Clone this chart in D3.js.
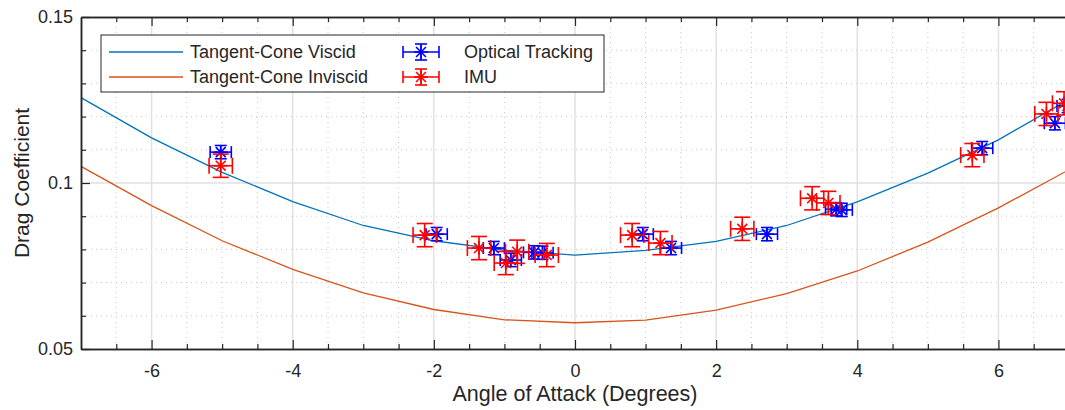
<!DOCTYPE html>
<html>
<head>
<meta charset="UTF-8">
<title>Drag coefficient vs angle of attack</title>
<script src="https://d3js.org/d3.v7.min.js"></script>
<style>
  body { margin: 0; background: #fff; }
  text { font-family: "Liberation Sans", Arial, sans-serif; fill: #262626; }
</style>
</head>
<body>
<script>
// model curves
var alphaGrid = [-7, -6, -5, -4, -3, -2, -1, 0, 1, 2, 3, 4, 5, 6, 7];
var viscid    = [0.1257, 0.1136, 0.1032, 0.0944, 0.0872, 0.0826, 0.0798, 0.0783, 0.0797, 0.0824, 0.0872, 0.0943, 0.1030, 0.1130, 0.1252];
var inviscid  = [0.1050, 0.0932, 0.0826, 0.0740, 0.0669, 0.0619, 0.0588, 0.0579, 0.0587, 0.0617, 0.0667, 0.0735, 0.0822, 0.0925, 0.1040];

// measurements
var opticalAlpha = [-5.02, -1.96, -1.15, -0.91, -0.58, -0.46, 0.96, 1.36, 2.72, 3.70, 3.78, 5.77, 6.80, 6.98];
var opticalCd    = [0.1093, 0.0846, 0.0804, 0.0768, 0.0791, 0.0790, 0.0846, 0.0804, 0.0846, 0.0921, 0.0919, 0.1105, 0.1180, 0.1232];
var imuAlpha = [-5.02, -2.13, -1.36, -0.98, -0.82, -0.40, 0.81, 1.21, 2.37, 3.36, 3.59, 5.63, 6.68, 6.93];
var imuCd    = [0.1052, 0.0843, 0.0804, 0.0759, 0.0793, 0.0783, 0.0843, 0.0819, 0.0862, 0.0954, 0.0940, 0.1084, 0.1208, 0.1240];

var xTicks = [-6, -4, -2, 0, 2, 4, 6];
var yTicks = [0.05, 0.1, 0.15];

var margin = {top: 17, right: -4, bottom: 61, left: 81},
    W = 1065, H = 410,
    width = W - margin.left - margin.right,
    height = H - margin.top - margin.bottom;

var x = d3.scaleLinear().domain([-7, 7]).range([0, width]);
var y = d3.scaleLinear().domain([0.05, 0.15]).range([height, 0]);

var svg = d3.select("body").append("svg")
    .attr("width", W).attr("height", H);
var g = svg.append("g")
    .attr("transform", "translate(" + margin.left + "," + margin.top + ")");

// minor grid
var xMinor = d3.range(-6.5, 7, 0.5).filter(function (v) { return Math.abs(v % 2) > 1e-6; });
var yMinor = d3.range(0.06, 0.15, 0.01).filter(function (v) { return Math.abs(v - 0.1) > 1e-6; });
g.selectAll(".xminor").data(xMinor).enter().append("line")
    .attr("x1", function (d) { return x(d); }).attr("x2", function (d) { return x(d); })
    .attr("y1", 0).attr("y2", height)
    .attr("stroke", "#c8c8c8").attr("stroke-width", 1).attr("stroke-dasharray", "1,4");
g.selectAll(".yminor").data(yMinor).enter().append("line")
    .attr("y1", function (d) { return y(d); }).attr("y2", function (d) { return y(d); })
    .attr("x1", 0).attr("x2", width)
    .attr("stroke", "#c8c8c8").attr("stroke-width", 1).attr("stroke-dasharray", "1,4");

// major grid
g.selectAll(".xmajor").data(xTicks).enter().append("line")
    .attr("x1", function (d) { return x(d); }).attr("x2", function (d) { return x(d); })
    .attr("y1", 0).attr("y2", height)
    .attr("stroke", "#e1e1e1").attr("stroke-width", 1.5);
g.selectAll(".ymajor").data([0.1]).enter().append("line")
    .attr("y1", function (d) { return y(d); }).attr("y2", function (d) { return y(d); })
    .attr("x1", 0).attr("x2", width)
    .attr("stroke", "#e1e1e1").attr("stroke-width", 1.5);

// curves
var line = d3.line()
    .x(function (d) { return x(d[0]); })
    .y(function (d) { return y(d[1]); });
g.append("path").datum(d3.zip(alphaGrid, inviscid))
    .attr("d", line).attr("fill", "none").attr("stroke", "#D95319").attr("stroke-width", 1.3);
g.append("path").datum(d3.zip(alphaGrid, viscid))
    .attr("d", line).attr("fill", "none").attr("stroke", "#0072BD").attr("stroke-width", 1.3);

// error bar marks
function errMark(sel, color, ex, ey, cap) {
    sel.each(function (d) {
        var s = d3.select(this);
        var cx = x(d[0]), cy = y(d[1]);
        var dx = x(d[0] + ex) - cx, dy = cy - y(d[1] + ey);
        drawErr(s, cx, cy, dx, dy, cap, color);
    });
}
function drawErr(s, cx, cy, dx, dy, cap, color) {
    var segs = [
        [cx - dx, cy, cx + dx, cy],
        [cx, cy - dy, cx, cy + dy],
        [cx - dx, cy - cap, cx - dx, cy + cap],
        [cx + dx, cy - cap, cx + dx, cy + cap],
        [cx - cap, cy - dy, cx + cap, cy - dy],
        [cx - cap, cy + dy, cx + cap, cy + dy]
    ];
    var r = 7, k = r * 0.7071;
    segs.push([cx - r, cy, cx + r, cy], [cx, cy - r, cx, cy + r],
              [cx - k, cy - k, cx + k, cy + k], [cx - k, cy + k, cx + k, cy - k]);
    s.selectAll("line").data(segs).enter().append("line")
        .attr("x1", function (d) { return d[0]; }).attr("y1", function (d) { return d[1]; })
        .attr("x2", function (d) { return d[2]; }).attr("y2", function (d) { return d[3]; })
        .attr("stroke", color).attr("stroke-width", 1.6);
}

g.selectAll(".opt").data(d3.zip(opticalAlpha, opticalCd)).enter().append("g")
    .attr("class", "opt").call(errMark, "#0000ff", 0.15, 0.002, 6);
g.selectAll(".imu").data(d3.zip(imuAlpha, imuCd)).enter().append("g")
    .attr("class", "imu").call(errMark, "#ff0000", 0.165, 0.0035, 8);

// axes
var fmtX = function (d) { return String(d); };
var fmtY = function (d) { return String(+d.toFixed(2)); };
g.append("g").attr("transform", "translate(0," + height + ")")
    .call(d3.axisBottom(x).tickValues(xTicks).tickSizeInner(-9).tickSizeOuter(0).tickPadding(15).tickFormat(fmtX));
g.append("g")
    .call(d3.axisTop(x).tickValues(xTicks).tickSizeInner(-9).tickSizeOuter(0).tickFormat(""));
g.append("g")
    .call(d3.axisLeft(y).tickValues(yTicks).tickSizeInner(-9).tickSizeOuter(0).tickPadding(8).tickFormat(fmtY));
// minor ticks
g.append("g").attr("transform", "translate(0," + height + ")")
    .call(d3.axisBottom(x).tickValues(xMinor).tickSizeInner(-5).tickSizeOuter(0).tickFormat(""));
g.append("g")
    .call(d3.axisTop(x).tickValues(xMinor).tickSizeInner(-5).tickSizeOuter(0).tickFormat(""));
g.append("g")
    .call(d3.axisLeft(y).tickValues(yMinor).tickSizeInner(-5).tickSizeOuter(0).tickFormat(""));
g.selectAll(".domain").attr("stroke", "#262626").attr("stroke-width", 1.5);
g.selectAll(".tick line").attr("stroke", "#262626").attr("stroke-width", 1.2);
g.selectAll(".tick text").attr("fill", "#262626")
    .style("font-family", "Liberation Sans, Arial, sans-serif").style("font-size", "18px");

// axis labels
svg.append("text").attr("x", margin.left + x(0)).attr("y", 401)
    .attr("text-anchor", "middle").style("font-size", "21.5px")
    .text("Angle of Attack (Degrees)");
svg.append("text").attr("transform", "translate(29," + (margin.top + y(0.1)) + ") rotate(-90)")
    .attr("text-anchor", "middle").style("font-size", "21px")
    .text("Drag Coefficient");

// legend
var leg = svg.append("g").attr("transform", "translate(101,35)");
leg.append("rect").attr("width", 503).attr("height", 57)
    .attr("fill", "#fff").attr("stroke", "#262626").attr("stroke-width", 1);
var legLines = [["Tangent-Cone Viscid", "#0072BD"], ["Tangent-Cone Inviscid", "#D95319"]];
legLines.forEach(function (l, i) {
    var ly = 17 + i * 25;
    leg.append("line").attr("x1", 8).attr("x2", 82).attr("y1", ly).attr("y2", ly)
        .attr("stroke", l[1]).attr("stroke-width", 1.3);
    leg.append("text").attr("x", 89).attr("y", ly + 6).style("font-size", "18px").text(l[0]);
});
var legErr = [["Optical Tracking", "#0000ff"], ["IMU", "#ff0000"]];
legErr.forEach(function (l, i) {
    var ly = 17 + i * 25;
    drawErr(leg.append("g"), 320, ly, 18, 8, 6, l[1]);
    leg.append("text").attr("x", 363).attr("y", ly + 6).style("font-size", "18px").text(l[0]);
});
</script>
</body>
</html>
